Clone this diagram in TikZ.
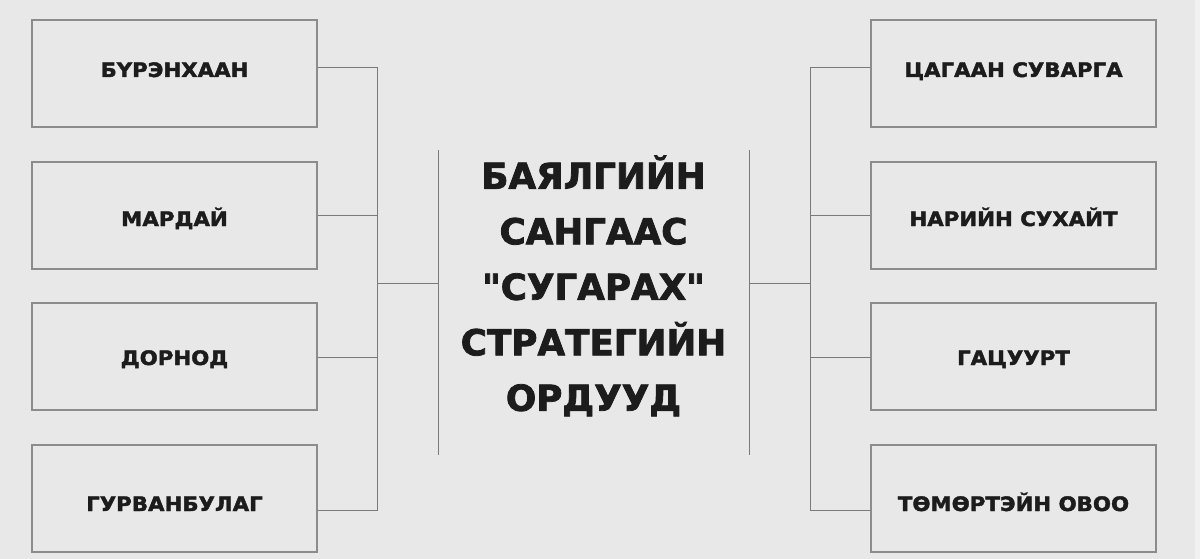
\documentclass[tikz,border=0pt]{standalone}
\usepackage{fontspec}
\setmainfont{DejaVu Sans}
\newfontfamily\headfont{DejaVu Sans}[BoldFeatures={FakeBold=2.2}]
\newfontfamily\lblfont{DejaVu Sans}[BoldFeatures={FakeBold=2, FakeStretch=1.07}]
\definecolor{bgcol}{HTML}{E8E8E8}
\definecolor{edgecol}{HTML}{F1F1F1}
\definecolor{boxcol}{HTML}{8C8C8C}
\definecolor{wirecol}{HTML}{7A7A7A}
\definecolor{inkcol}{HTML}{1C1C1C}
\tikzset{
  box/.style={draw=boxcol, line width=1.3pt, minimum width=285pt, minimum height=107pt, inner sep=0pt},
  lbl/.style={text=inkcol, font=\lblfont\bfseries\fontsize{19.9}{24}\selectfont, inner sep=0pt, anchor=base},
  title/.style={text=inkcol, font=\headfont\bfseries\fontsize{35.7}{55.5}\selectfont, align=center, inner sep=0pt},
  wire/.style={draw=wirecol, line width=1pt},
}
\begin{document}
\begin{tikzpicture}[x=1pt,y=-1pt]
\fill[bgcol] (0,0) rectangle (1200,559);
\fill[edgecol] (1195,0) rectangle (1200,559);
\useasboundingbox (0,0) rectangle (1200,559);
% left boxes
\node[box] (l1) at (174.5,73.5) {};
\node[box] (l2) at (174.5,215.5) {};
\node[box] (l3) at (174.5,356.5) {};
\node[box] (l4) at (174.5,498.5) {};
% right boxes
\node[box] (r1) at (1013.5,73.5) {};
\node[box] (r2) at (1013.5,215.5) {};
\node[box] (r3) at (1013.5,356.5) {};
\node[box] (r4) at (1013.5,498.5) {};
% labels
\node[lbl] (tl1) at (174.5,77) {БҮРЭНХААН};
\node[lbl] (tl2) at (174.5,226) {МАРДАЙ};
\node[lbl] (tl3) at (174.5,365) {ДОРНОД};
\node[lbl] (tl4) at (174.5,511) {ГУРВАНБУЛАГ};
\node[lbl] (tr1) at (1013.5,77) {ЦАГААН СУВАРГА};
\node[lbl] (tr2) at (1013.5,226) {НАРИЙН СУХАЙТ};
\node[lbl] (tr3) at (1013.5,365) {ГАЦУУРТ};
\node[lbl] (tr4) at (1013.5,511) {ТӨМӨРТЭЙН ОВОО};
% title
\node[title] (t) at (593.5,286) {БАЯЛГИЙН\\САНГААС\\"СУГАРАХ"\\СТРАТЕГИЙН\\ОРДУУД};
% title side lines
\coordinate (ct) at (438,150);
\coordinate (cb) at (438,455);
\coordinate (dt) at (749,150);
\coordinate (db) at (749,455);
\coordinate (cm) at (438,283);
\coordinate (dm) at (749,283);
\draw[wire] (ct) -- (cb);
\draw[wire] (dt) -- (db);
% left bus
\coordinate (lb) at (377,283);
\draw[wire] ([yshift=5.5pt]l1.east) -| ([yshift=-11.5pt]l4.east -| lb) -- ([yshift=-11.5pt]l4.east);
\draw[wire] ([yshift=0.5pt]l2.east) -- ([yshift=0.5pt]l2.east -| lb);
\draw[wire] ([yshift=-0.5pt]l3.east) -- ([yshift=-0.5pt]l3.east -| lb);
\draw[wire] (lb) -- (cm);
% right bus
\coordinate (rb) at (810,283);
\draw[wire] ([yshift=5.5pt]r1.west) -| ([yshift=-11.5pt]r4.west -| rb) -- ([yshift=-11.5pt]r4.west);
\draw[wire] ([yshift=0.5pt]r2.west) -- ([yshift=0.5pt]r2.west -| rb);
\draw[wire] ([yshift=-0.5pt]r3.west) -- ([yshift=-0.5pt]r3.west -| rb);
\draw[wire] (dm) -- (rb);
\end{tikzpicture}
\end{document}
